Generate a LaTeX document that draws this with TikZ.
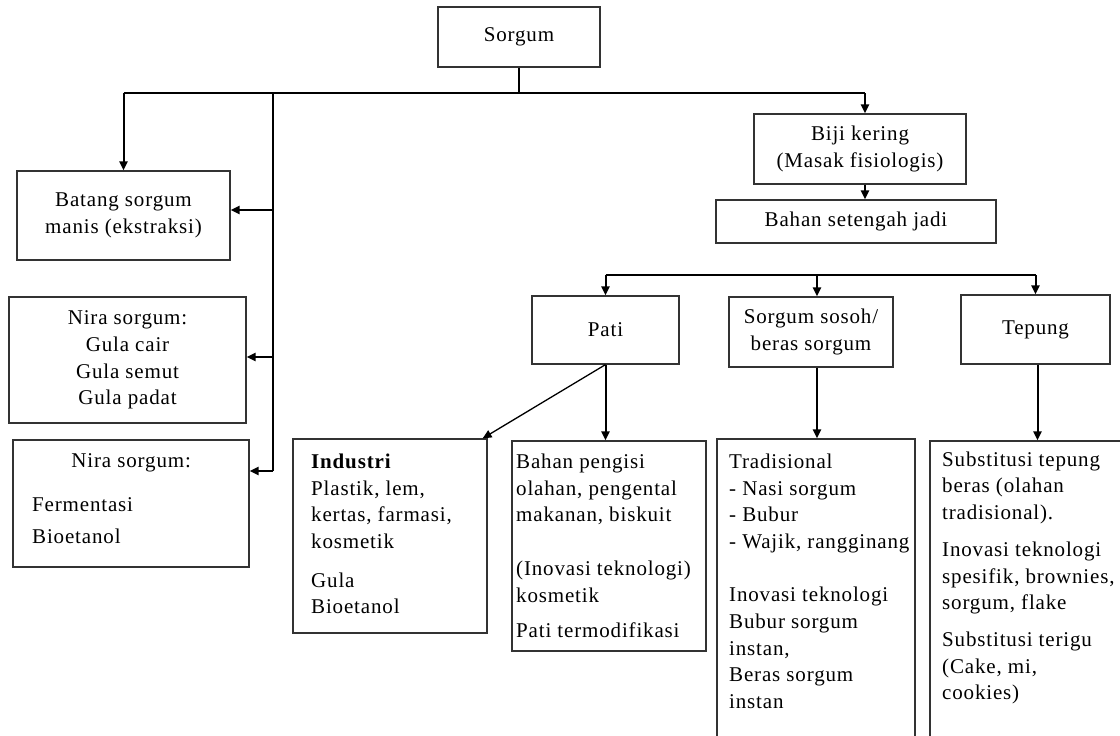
\documentclass[tikz,border=0pt]{standalone}
\usepackage{fontspec}
\setmainfont{Liberation Serif}[LetterSpace=4]
\usetikzlibrary{arrows.meta}

\tikzset{
  box/.style = {draw=black!80, line width=1.2pt, align=center, inner sep=0pt,
                font=\fontsize{21}{26.7}\selectfont},
  txt/.style = {align=left, anchor=north west, inner sep=0pt,
                font=\fontsize{21}{26.7}\selectfont},
  link/.style = {line width=2pt},
  arr/.style = {line width=2pt, -{Triangle[length=9pt,width=8pt]}}
}

\begin{document}
\begin{tikzpicture} [x=1pt, y=-1pt]
\clip (0,0) rectangle (1120,736);

\node [box, minimum width=162pt, minimum height=60pt] (sorgum) at (519,37) {Sorgum};

\node [box, minimum width=213pt, minimum height=89pt] (batang) at (123.5,215.5) {Batang sorgum\\manis (ekstraksi)};
\node [box, minimum width=237pt, minimum height=126pt] (nira1) at (127.5,360) {Nira sorgum:\\Gula cair\\Gula semut\\Gula padat};
\node [box, minimum width=236pt, minimum height=127pt] (nira2) at (131,503.5) {};
\node [txt] (nira2t) at (32,453.5) {\makebox[198pt]{Nira sorgum:}\\[17pt]Fermentasi\\[5pt]Bioetanol};

\node [box, minimum width=212pt, minimum height=70pt] (biji) at (860,149) {Biji kering\\(Masak fisiologis)};
\node [box, minimum width=280pt, minimum height=43pt] (bahan) at (856,221.5) {Bahan setengah jadi};

\node [box, minimum width=147pt, minimum height=68pt] (pati) at (605.5,330) {Pati};
\node [box, minimum width=164pt, minimum height=70pt] (sosoh) at (811,332) {Sorgum sosoh/\\beras sorgum};
\node [box, minimum width=149pt, minimum height=69pt] (tepung) at (1035.5,329.5) {Tepung};

\node [box, minimum width=194pt, minimum height=194pt] (industri) at (390,536) {};
\node [txt] (industrit) at (311,453.6) {\textbf{Industri}\\Plastik, lem,\\kertas, farmasi,\\kosmetik\\[12pt]Gula\\Bioetanol};

\node [box, minimum width=194pt, minimum height=210pt] (pengisi) at (609,546) {};
\node [txt] (pengisit) at (516,453.6) {Bahan pengisi\\olahan, pengental\\makanan, biskuit\\[27pt](Inovasi teknologi)\\kosmetik\\[9pt]Pati termodifikasi};

\node [box, minimum width=198pt, minimum height=321pt] (trad) at (816,599.5) {};
\node [txt] (tradt) at (729,453.6) {Tradisional\\- Nasi sorgum\\- Bubur\\- Wajik, rangginang\\[26.7pt]Inovasi teknologi\\Bubur sorgum\\instan,\\Beras sorgum\\instan};

\node [box, minimum width=210pt, minimum height=319pt] (subst) at (1035,600.5) {};
\node [txt] (substt) at (942,451.5) {Substitusi tepung\\beras (olahan\\tradisional).\\[10pt]Inovasi teknologi\\spesifik, brownies,\\sorgum, flake\\[10pt]Substitusi terigu\\(Cake, mi,\\cookies)};

% top branches
\coordinate (split) at (519,93);
\coordinate (lft) at (123.5,93);
\coordinate (rgt) at (865,93);
\coordinate (trunk) at (273,93);
\coordinate (t1) at (273,210);
\coordinate (t2) at (273,357);
\coordinate (t3) at (273,471);

\draw [link] (sorgum) -- (split);
\draw [link] (lft) -- (rgt);
\draw [arr] (lft) -- (batang.north);
\draw [arr] (rgt) -- (rgt |- biji.north);
\draw [arr] (biji.south -| rgt) -- (rgt |- bahan.north);

\draw [link] (trunk) -- (t3);
\draw [arr] (t1) -- (t1 -| batang.east);
\draw [arr] (t2) -- (t2 -| nira1.east);
\draw [arr] (t3) -- (t3 -| nira2.east);

% products
\coordinate (r1) at (605.5,275);
\coordinate (r2) at (817,275);
\coordinate (r3) at (1035.5,275);

\draw [link] (r1) -- (r3);
\draw [arr] (r1) -- (pati.north);
\draw [arr] (r2) -- (r2 |- sosoh.north);
\draw [arr] (r3) -- (tepung.north);

\draw [arr, line width=1.3pt] (pati.south) -- ([xshift=-5pt]industri.north east);
\draw [arr] (pati.south) -- (pati.south |- pengisi.north);
\draw [arr] (sosoh.south -| r2) -- (r2 |- trad.north);
\draw [arr] ([xshift=2pt]tepung.south) -- ([xshift=2pt]tepung.south |- subst.north);

\end{tikzpicture}
\end{document}
